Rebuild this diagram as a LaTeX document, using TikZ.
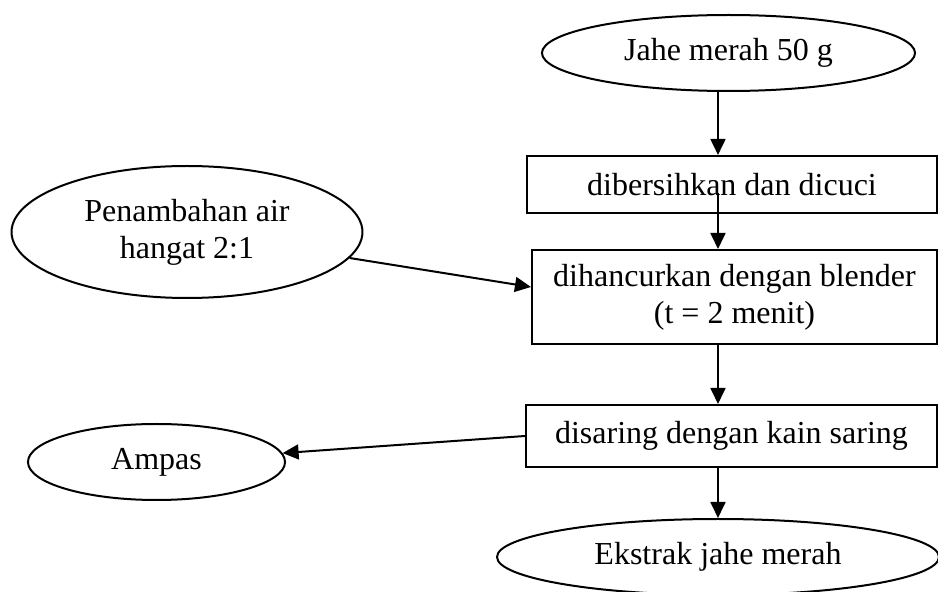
\documentclass[tikz,border=0pt]{standalone}
\usepackage{fontspec}
\setmainfont{Liberation Serif}
\usetikzlibrary{arrows.meta,shapes.geometric}

\begin{document}
\begin{tikzpicture}[x=0.375pt,y=-0.375pt,font=\fontsize{12}{13.8}\selectfont,
  bx/.style={draw,line width=0.75pt,align=center,inner sep=0pt},
  el/.style={draw,ellipse,line width=0.75pt,align=center,inner sep=0pt},
  arr/.style={-{Triangle[length=6pt,width=5.6pt]},line width=0.75pt}]
  \useasboundingbox (0,0) rectangle (938,592);
  \coordinate (ax) at (718,0);
  \node[el,minimum width=139.9pt,minimum height=28.5pt](jahe) at (728.5,53){Jahe merah 50 g};
  \node[bx,minimum width=153.75pt,minimum height=21.4pt](b1) at (732,184.5){dibersihkan dan dicuci};
  \node[bx,minimum width=151.9pt,minimum height=35.25pt](b2) at (734.5,297){dihancurkan dengan blender\\(t = 2 menit)};
  \node[bx,minimum width=154.1pt,minimum height=23.25pt](b3) at (731.5,436){disaring dengan kain saring};
  \node[el,minimum width=165.75pt,minimum height=28.5pt](eks) at (718,557){Ekstrak jahe merah};
  \node[el,minimum width=131.6pt,minimum height=49.5pt](air) at (187,232){Penambahan air\\hangat 2:1};
  \node[el,minimum width=96.4pt,minimum height=28.5pt](amp) at (156.5,462){Ampas};
  \draw[arr](jahe.south -| ax)--(b1.north -| ax);
  \draw[arr,shorten <=-8pt](b1.south -| ax)--(b2.north -| ax);
  \draw[arr](b2.south -| ax)--(b3.north -| ax);
  \draw[arr](b3.south -| ax)--(eks.north -| ax);
  \draw[arr](air)--([yshift=3.75pt]b2.west);
  \draw[arr](b3.west)--(amp);
\end{tikzpicture}
\end{document}
